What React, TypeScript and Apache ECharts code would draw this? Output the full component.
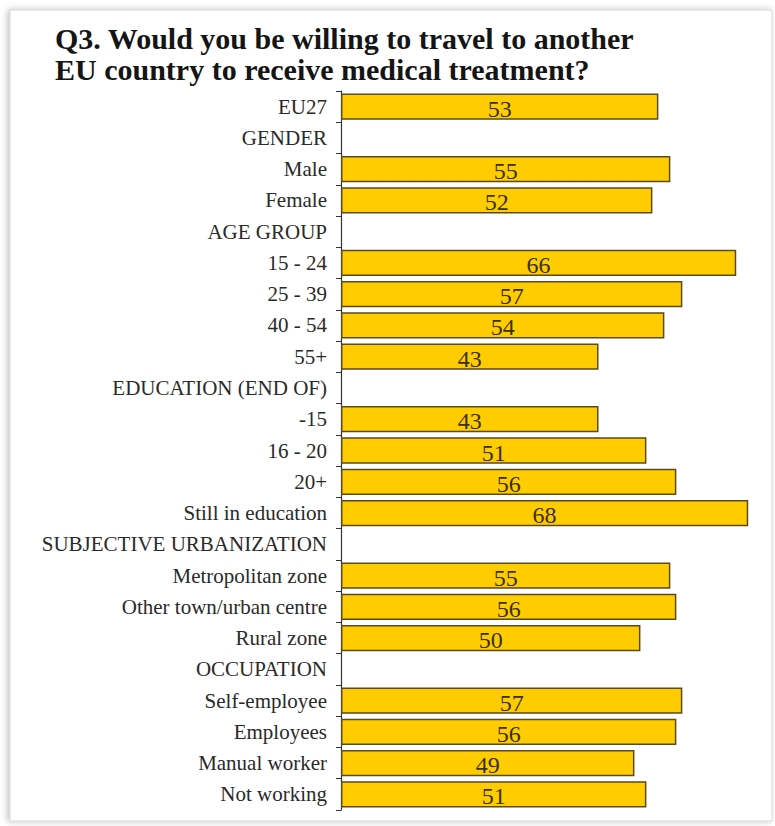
import React, { useEffect, useRef } from "react";
import * as echarts from "echarts";

const categories = [
  "EU27",
  "GENDER",
  "Male",
  "Female",
  "AGE GROUP",
  "15 - 24",
  "25 - 39",
  "40 - 54",
  "55+",
  "EDUCATION (END OF)",
  "-15",
  "16 - 20",
  "20+",
  "Still in education",
  "SUBJECTIVE URBANIZATION",
  "Metropolitan zone",
  "Other town/urban centre",
  "Rural zone",
  "OCCUPATION",
  "Self-employee",
  "Employees",
  "Manual worker",
  "Not working",
];

const values: (number | null)[] = [
  53, null, 55, 52, null, 66, 57, 54, 43, null, 43, 51, 56, 68, null, 55, 56, 50, null, 57, 56, 49, 51,
];

const titleText = "Q3. Would you be willing to travel to another\nEU country to receive medical treatment?";

export default function App() {
  const ref = useRef<HTMLDivElement>(null);
  useEffect(() => {
    if (!ref.current) return;
    const chart = echarts.init(ref.current, undefined, { renderer: "svg" });
    const serif = "'Liberation Serif', 'Times New Roman', serif";
    chart.setOption({
      animation: false,
      backgroundColor: "#ffffff",
      graphic: [
        {
          type: "rect",
          shape: { x: 10, y: 10, width: 762, height: 811 },
          style: {
            fill: "#ffffff",
            stroke: "#d6d6d6",
            lineWidth: 1,
            shadowBlur: 6,
            shadowColor: "rgba(0,0,0,0.25)",
            shadowOffsetX: -2,
            shadowOffsetY: 0,
          },
          z: -10,
          silent: true,
        },
      ],
      title: {
        text: titleText,
        left: 50,
        top: 18,
        textStyle: {
          fontFamily: serif,
          fontWeight: "bold",
          fontSize: 30,
          lineHeight: 31,
          color: "#151515",
        },
      },
      grid: { left: 341, right: 19, top: 91, bottom: 16, containLabel: false },
      xAxis: {
        type: "value",
        min: 0,
        max: 69.3,
        show: false,
      },
      yAxis: {
        type: "category",
        data: categories,
        inverse: true,
        axisLine: { show: true, lineStyle: { color: "#333333", width: 1.2 } },
        axisTick: { show: true, length: 5, lineStyle: { color: "#333333" } },
        axisLabel: {
          fontFamily: serif,
          fontSize: 21,
          color: "#2a2a2a",
          margin: 14,
        },
      },
      series: [
        {
          type: "bar",
          data: values,
          barCategoryGap: "16%",
          itemStyle: {
            color: "#FFCC00",
            borderColor: "#5a4a1c",
            borderWidth: 1.5,
          },
          label: {
            show: true,
            position: "inside",
            fontFamily: serif,
            fontSize: 24,
            color: "#3a3005",
            offset: [0, 2],
          },
        },
      ],
    });
    return () => chart.dispose();
  }, []);
  return <div ref={ref} style={{ width: 775, height: 826, position: "absolute", left: 0, top: 0 }} />;
}
